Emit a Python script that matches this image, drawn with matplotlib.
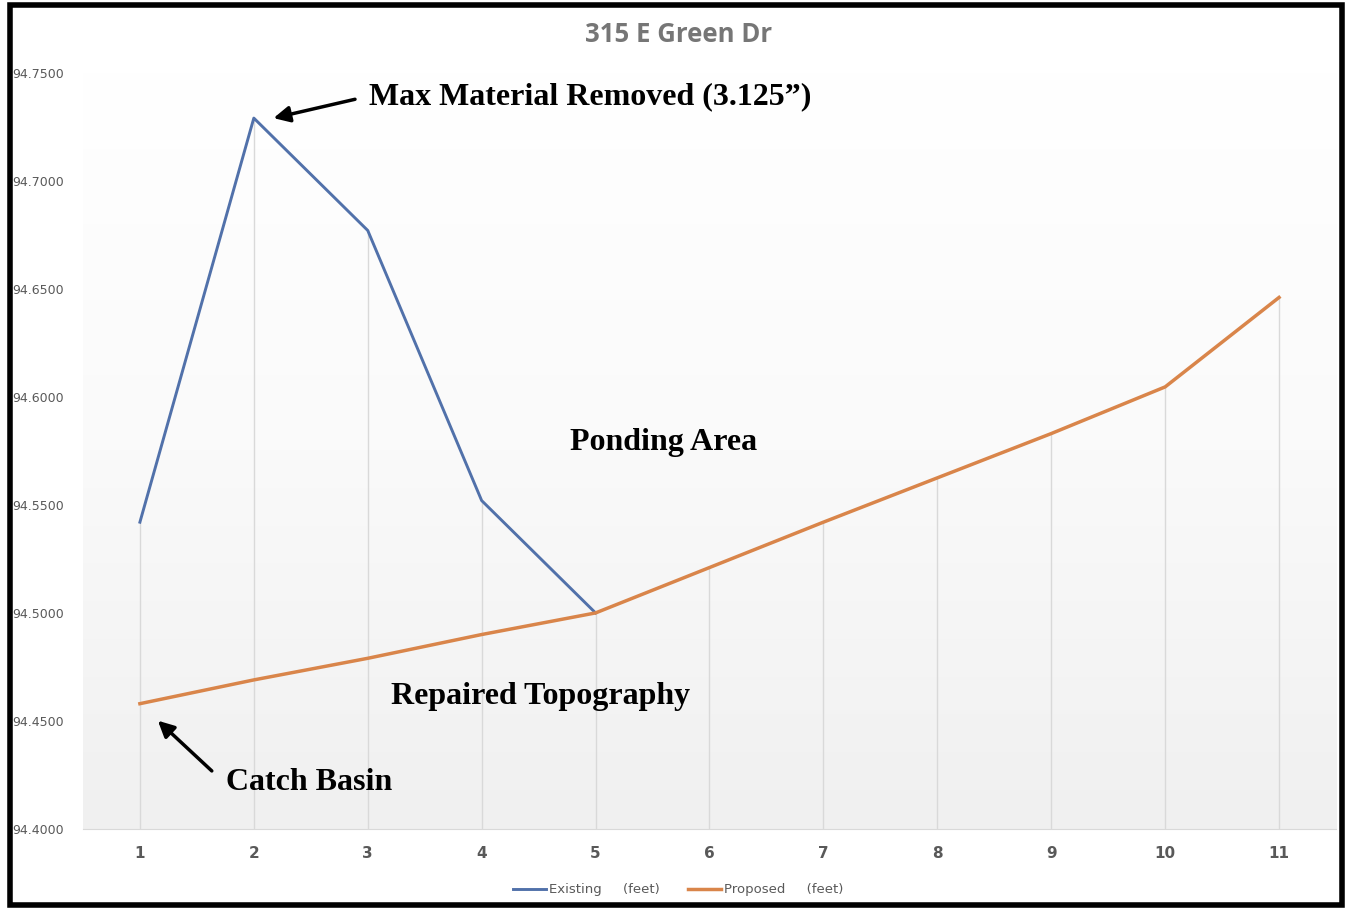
import numpy as np
import matplotlib.pyplot as plt
from matplotlib.colors import LinearSegmentedColormap
from matplotlib.patches import Rectangle

# Data
stations = [1, 2, 3, 4, 5, 6, 7, 8, 9, 10, 11]
existing_x = [1, 2, 3, 4, 5]
existing = [94.542, 94.729, 94.677, 94.552, 94.500]
proposed = [94.458, 94.469, 94.479, 94.490, 94.500, 94.521,
            94.542, 94.5625, 94.583, 94.6046, 94.646]
y_ticks = [94.40, 94.45, 94.50, 94.55, 94.60, 94.65, 94.70, 94.75]

BLUE = '#5171aa'
ORANGE = '#d9854a'
GRAY = '#595959'
SERIF = ['Liberation Serif', 'DejaVu Serif']

fig = plt.figure(figsize=(13.51, 9.09), dpi=100)
ax = fig.add_axes([0.0614, 0.088, 0.9275, 0.832])

# soft white-to-gray gradient behind the plot
grad = np.linspace(0, 1, 256).reshape(-1, 1)
bg = LinearSegmentedColormap.from_list('bg', ['#f0f0f0', '#fafafa', '#ffffff'])
ax.imshow(grad, extent=[0.5, 11.5, 94.40, 94.75], aspect='auto',
          cmap=bg, origin='lower', zorder=0)

# drop lines from the highest point at each station to the axis
top = {s: v for s, v in zip(stations, proposed)}
for s, v in zip(existing_x, existing):
    top[s] = max(top[s], v)
ax.vlines(stations, 94.40, [top[s] for s in stations], color='#d9d9d9', lw=1.0, zorder=1)

ax.plot(existing_x, existing, color=BLUE, lw=2.1, label='Existing     (feet)', zorder=3)
ax.plot(stations, proposed, color=ORANGE, lw=2.5, label='Proposed     (feet)', zorder=3)

ax.set_xlim(0.5, 11.5)
ax.set_ylim(94.40, 94.75)
ax.set_xticks(stations)
ax.set_xticklabels([str(s) for s in stations], fontsize=11, fontweight='bold', color=GRAY)
ax.set_yticks(y_ticks)
ax.set_yticklabels([f'{v:.4f}' for v in y_ticks], fontsize=9, color=GRAY)
ax.tick_params(axis='both', length=0)
ax.tick_params(axis='x', pad=12)
ax.tick_params(axis='y', pad=14)
for side in ['top', 'right', 'left']:
    ax.spines[side].set_visible(False)
ax.spines['bottom'].set_color('#d9d9d9')

fig.text(0.5025, 0.962, '315 E Green Dr', ha='center', va='center',
         family=['Open Sans', 'DejaVu Sans'], fontsize=18.5, fontweight='bold',
         color='#767676')

# annotations
ax.text(3.009, 94.739, 'Max Material Removed (3.125\u201d)', family=SERIF,
        fontsize=23, fontweight='bold', va='center', ha='left')
ax.annotate('', xy=(2.149, 94.7287), xytext=(2.912, 94.738),
            arrowprops=dict(arrowstyle='-|>', color='black', lw=2.5,
                            mutation_scale=24))
ax.text(5.596, 94.579, 'Ponding Area', family=SERIF, fontsize=23,
        fontweight='bold', ha='center', va='center')
ax.text(4.518, 94.4615, 'Repaired Topography', family=SERIF, fontsize=23,
        fontweight='bold', ha='center', va='center')
ax.text(1.754, 94.4215, 'Catch Basin', family=SERIF, fontsize=23,
        fontweight='bold', ha='left', va='center')
ax.annotate('', xy=(1.14, 94.451), xytext=(1.649, 94.426),
            arrowprops=dict(arrowstyle='-|>', color='black', lw=2.5,
                            mutation_scale=24))

leg = fig.legend(loc='center', bbox_to_anchor=(0.502, 0.021), ncol=2, frameon=False,
                 fontsize=9.5, handlelength=2.5, handletextpad=0.2, columnspacing=2.2)
for t in leg.get_texts():
    t.set_color(GRAY)

# black frame around the whole picture
fig.patches.append(Rectangle((0.0075, 0.004), 0.986, 0.991, transform=fig.transFigure,
                             fill=False, edgecolor='black', lw=4))

fig.savefig('out.png', dpi=100)
